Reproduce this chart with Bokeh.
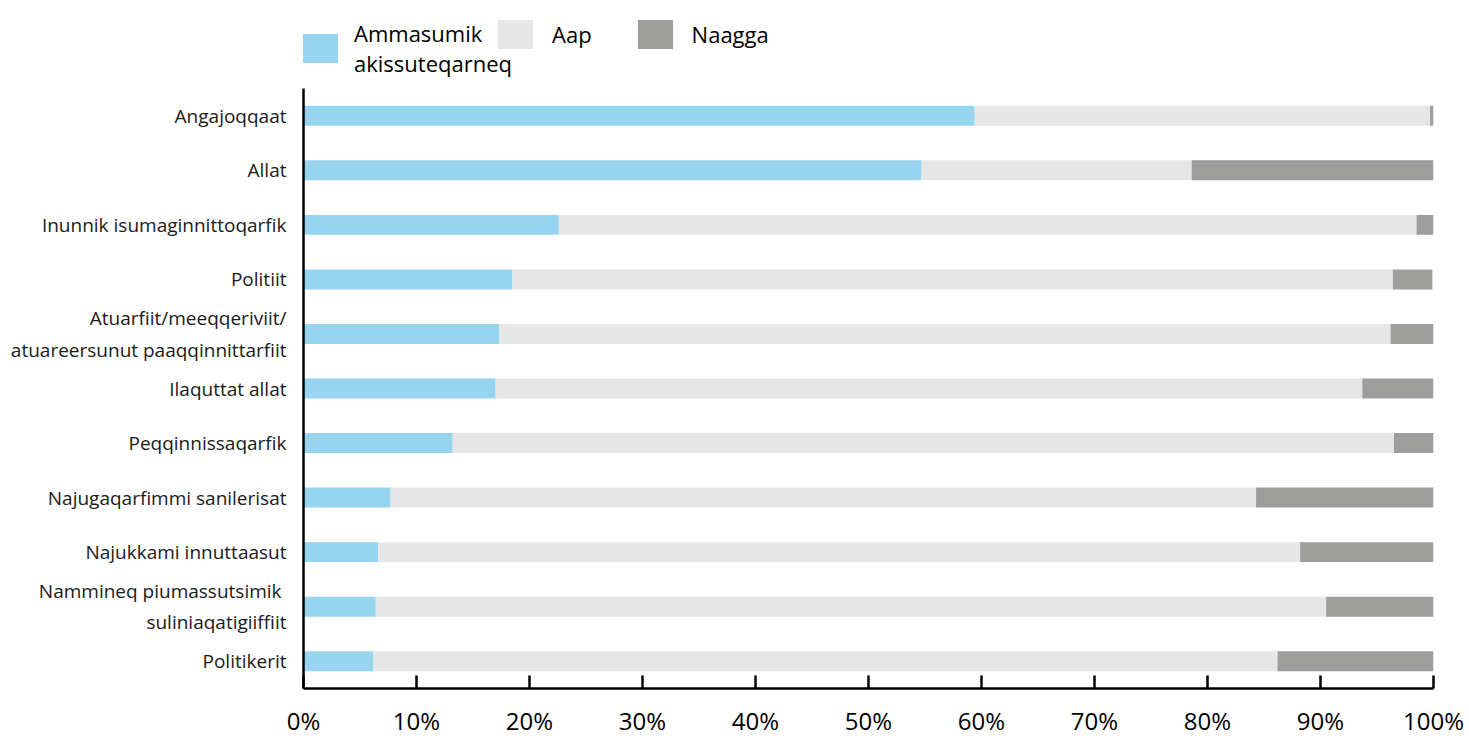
from bokeh.plotting import figure
from bokeh.layouts import column
from bokeh.models import FactorRange, Range1d, Legend, LegendItem, PrintfTickFormatter, FixedTicker, ColumnDataSource
from bokeh.embed import file_html
from bokeh.resources import INLINE

categories = [
    "Angajoqqaat",
    "Allat",
    "Inunnik isumaginnittoqarfik",
    "Politiit",
    "Atuarfiit/meeqqeriviit/\natuareersunut paaqqinnittarfiit",
    "Ilaquttat allat",
    "Peqqinnissaqarfik",
    "Najugaqarfimmi sanilerisat",
    "Najukkami innuttaasut",
    "Nammineq piumassutsimik \nsuliniaqatigiiffiit",
    "Politikerit",
]
series_names = ["Ammasumik\nakissuteqarneq", "Aap", "Naagga"]
ammasumik = [59.4, 54.7, 22.6, 18.5, 17.3, 17.0, 13.2, 7.7, 6.6, 6.4, 6.2]
aap = [40.3, 23.9, 75.9, 77.9, 78.9, 76.7, 83.3, 76.6, 81.6, 84.1, 80.0]
naagga = [0.3, 21.4, 1.5, 3.5, 3.8, 6.3, 3.5, 15.7, 11.8, 9.5, 13.8]
x_ticks = [0, 10, 20, 30, 40, 50, 60, 70, 80, 90, 100]

colors = ["#97D4EF", "#E6E6E6", "#9D9D9C"]
FONT = "Open Sans"
W = 1468

src = ColumnDataSource(dict(cat=categories, a=ammasumik, b=aap, c=naagga))

# ---- legend strip (same stacked data, zero height and out of view; only the legend shows) ----
lg = figure(
    width=W, height=88,
    x_range=Range1d(-300, -200),
    y_range=FactorRange(factors=list(reversed(categories)), range_padding=0),
    output_backend="svg", toolbar_location=None,
    x_axis_location=None, y_axis_location=None,
    min_border_left=0, min_border_right=0, min_border_top=0, min_border_bottom=0,
)
lg.outline_line_color = None
lg.xgrid.visible = False
lg.ygrid.visible = False
swatches = lg.hbar_stack(["a", "b", "c"], y="cat", height=0, color=colors, source=src, line_color=None)

common = dict(
    orientation="horizontal", glyph_width=44, glyph_height=36,
    padding=0, margin=0,
    label_text_font=FONT, label_text_font_size="22px", label_text_color="black",
    background_fill_alpha=0, border_line_color=None,
)
legend_a = Legend(
    items=[LegendItem(label=series_names[0], renderers=[swatches[0]])],
    location=(-5, 10), label_standoff=12, spacing=0, **common,
)
legend_b = Legend(
    items=[LegendItem(label=n, renderers=[s]) for n, s in zip(series_names[1:], swatches[1:])],
    location=(190, 36), label_standoff=15, spacing=41, **common,
)
lg.add_layout(legend_a)
lg.add_layout(legend_b)

# ---- main chart ----
p = figure(
    width=W, height=651,
    y_range=FactorRange(factors=list(reversed(categories)), range_padding=0),
    x_range=Range1d(0, 100),
    output_backend="svg", toolbar_location=None,
    min_border_left=303, min_border_right=35, min_border_top=0, min_border_bottom=51,
)
p.outline_line_color = None
p.xgrid.visible = False
p.ygrid.visible = False

p.hbar_stack(["a", "b", "c"], y="cat", height=0.366, color=colors, source=src, line_color=None)

p.xaxis.ticker = FixedTicker(ticks=x_ticks)
p.xaxis.formatter = PrintfTickFormatter(format="%d%%")
p.xaxis.major_tick_in = 13
p.xaxis.major_tick_out = 0
p.xaxis.minor_tick_line_color = None
p.xaxis.axis_line_width = 2.5
p.xaxis.major_tick_line_width = 2.5
p.xaxis.axis_line_color = "black"
p.xaxis.major_tick_line_color = "black"
p.xaxis.major_label_text_font = FONT
p.xaxis.major_label_text_font_size = "24px"
p.xaxis.major_label_text_color = "black"
p.xaxis.major_label_standoff = 15

p.yaxis.major_tick_line_color = None
p.yaxis.minor_tick_line_color = None
p.yaxis.axis_line_width = 2.5
p.yaxis.axis_line_color = "black"
p.yaxis.major_label_text_font = FONT
p.yaxis.major_label_text_font_size = "19px"
p.yaxis.major_label_text_color = "#1a1a1a"
p.yaxis.major_label_standoff = 11

open("out.html", "w").write(file_html(column(lg, p, spacing=0), INLINE))
